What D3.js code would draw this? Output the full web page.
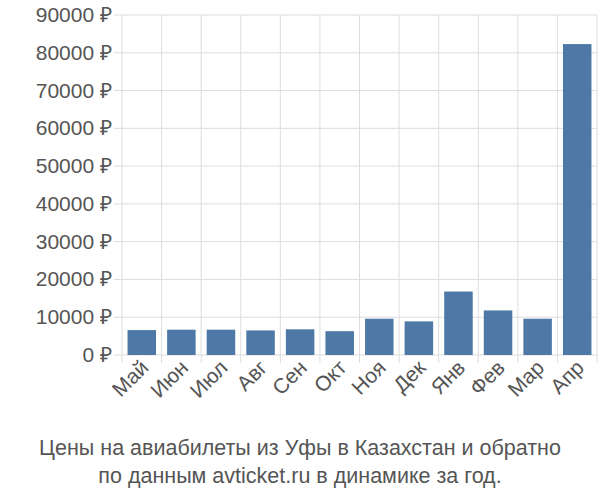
<!DOCTYPE html><html><head><meta charset="utf-8"><script src="https://cdn.jsdelivr.net/npm/d3@7"></script>
<style>body{margin:0;background:#fff}text{font-family:"Liberation Sans",Arial,sans-serif}</style></head><body>
<svg id="c" width="600" height="500"></svg>
<script>
const categories=["Май","Июн","Июл","Авг","Сен","Окт","Ноя","Дек","Янв","Фев","Мар","Апр"];
const values=[6600,6700,6700,6500,6800,6300,9600,8900,16800,11800,9600,82300];
const yTicks=[0,10000,20000,30000,40000,50000,60000,70000,80000,90000];
const svg=d3.select("#c");
const L=122,R=597,T=15,B=355;
const x=d3.scaleBand().domain(categories).range([L,R]).paddingInner(0.28).paddingOuter(0.14);
const y=d3.scaleLinear().domain([0,90000]).range([B,T]);
const g=svg.append("g");
yTicks.forEach(t=>{g.append("line").attr("x1",L-8).attr("x2",R).attr("y1",y(t)).attr("y2",y(t)).attr("stroke","#ddd");});
const step=(R-L)/categories.length;
d3.range(categories.length+1).forEach(i=>{g.append("line").attr("x1",L+i*step).attr("x2",L+i*step).attr("y1",T).attr("y2",B+8).attr("stroke","#ddd");});
yTicks.forEach(t=>{g.append("text").attr("x",L-10).attr("y",y(t)+7).attr("text-anchor","end").attr("font-size",21).attr("fill","#555").text(t+" ₽");});
svg.selectAll("rect").data(values).enter().append("rect").attr("x",(d,i)=>x(categories[i])).attr("width",x.bandwidth()).attr("y",d=>y(d)).attr("height",d=>B-y(d)).attr("fill","#4e79a7");
categories.forEach(c=>{const cx=x(c)+x.bandwidth()/2+8;svg.append("text").attr("transform",`translate(${cx},${B+14}) rotate(-45)`).attr("text-anchor","end").attr("font-size",21).attr("fill","#555").text(c);});
svg.append("text").attr("x",300).attr("y",455).attr("text-anchor","middle").attr("font-size",21.5).attr("fill","#555").text("Цены на авиабилеты из Уфы в Казахстан и обратно");
svg.append("text").attr("x",300).attr("y",483).attr("text-anchor","middle").attr("font-size",21.5).attr("fill","#555").text("по данным avticket.ru в динамике за год.");
</script></body></html>
